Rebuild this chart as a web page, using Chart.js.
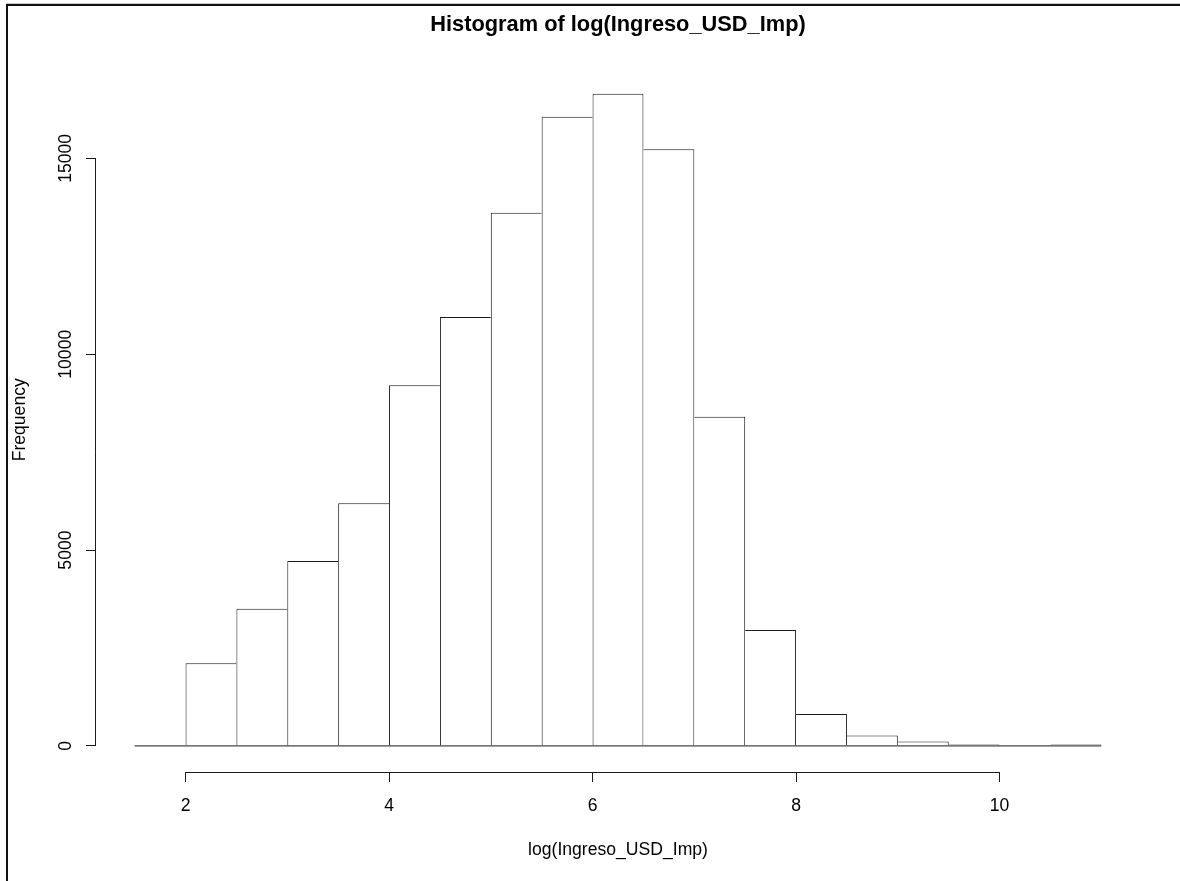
<!DOCTYPE html>
<html>
<head>
<meta charset="utf-8">
<title>Histogram of log(Ingreso_USD_Imp)</title>
<script src="https://cdn.jsdelivr.net/npm/chart.js@4.4.1/dist/chart.umd.min.js"></script>
<style>
  body { margin: 0; background: #fff; }
  #wrap { position: relative; width: 1180px; height: 881px; overflow: hidden; }
  #frame {
    position: absolute; left: 6px; top: 4px; right: 0; bottom: 0;
    border-top: 2px solid #111; border-left: 2px solid #111;
    box-shadow: 0 -1px 0 #c8c8c8;
    pointer-events: none;
  }
</style>
</head>
<body>
<div id="wrap">
  <canvas id="hist" width="1180" height="881"></canvas>
  <div id="frame"></div>
</div>
<script>
// histogram bins (R hist breaks) and counts
const breaks = [1.5, 2, 2.5, 3, 3.5, 4, 4.5, 5, 5.5, 6, 6.5, 7, 7.5, 8, 8.5, 9, 9.5, 10, 10.5, 11];
const counts = [3, 2111, 3505, 4723, 6196, 9209, 10952, 13615, 16066, 16653, 15234, 8407, 2961, 817, 263, 110, 33, 0, 33];
const xTicks = [2, 4, 6, 8, 10];
const yTicks = [0, 5000, 10000, 15000];

const FONT = "'Liberation Sans', Arial, sans-serif";
const LINE = '#1a1a1a';

// R pads the axis ranges by 4%
const xRange = breaks[breaks.length - 1] - breaks[0];
const yMax = Math.max(...counts);

const bars = counts.map((c, i) => ({ x: (breaks[i] + breaks[i + 1]) / 2, y: c }));

// shared edges only drawn once, by the taller bar
function edgeWidths(ctx) {
  const i = ctx.dataIndex;
  const c = counts[i];
  return {
    top: 1,
    bottom: 0,
    left: (i === 0 || counts[i - 1] < c) ? 1 : 0,
    right: (i === counts.length - 1 || counts[i + 1] <= c) ? 1 : 0
  };
}

// R style axes: line only spans first..last tick, y labels turned 90 degrees
const rAxes = {
  id: 'rAxes',
  afterDraw(chart) {
    const ctx = chart.ctx;
    const xs = chart.scales.x, ys = chart.scales.y;
    const area = chart.chartArea;
    ctx.save();
    ctx.strokeStyle = LINE;
    ctx.lineWidth = 1;
    ctx.beginPath();
    const yb = Math.round(area.bottom) + 0.5;
    ctx.moveTo(xs.getPixelForValue(xTicks[0]), yb);
    ctx.lineTo(xs.getPixelForValue(xTicks[xTicks.length - 1]), yb);
    const xl = Math.round(area.left) - 0.5;
    ctx.moveTo(xl, ys.getPixelForValue(yTicks[0]));
    ctx.lineTo(xl, ys.getPixelForValue(yTicks[yTicks.length - 1]));
    ctx.stroke();

    ctx.fillStyle = '#000';
    ctx.font = '17.6px ' + FONT;
    ctx.textAlign = 'center';
    ctx.textBaseline = 'alphabetic';
    yTicks.forEach(v => {
      ctx.save();
      ctx.translate(area.left - 25, ys.getPixelForValue(v));
      ctx.rotate(-Math.PI / 2);
      ctx.fillText(String(v), 0, 0);
      ctx.restore();
    });
    ctx.restore();
  }
};

new Chart(document.getElementById('hist'), {
  type: 'bar',
  data: {
    datasets: [
      {
        type: 'line',
        data: [{ x: breaks[0], y: 0 }, { x: breaks[breaks.length - 1], y: 0 }],
        borderColor: LINE,
        borderWidth: 1,
        pointRadius: 0,
        fill: false
      },
      {
        data: bars,
        backgroundColor: '#fff',
        borderColor: LINE,
        borderWidth: edgeWidths,
        borderSkipped: false,
        inflateAmount: 0,
        barPercentage: 1,
        categoryPercentage: 1
      }
    ]
  },
  options: {
    responsive: false,
    animation: false,
    layout: { padding: { top: 0, right: 40, bottom: 0, left: 0 } },
    plugins: {
      legend: { display: false },
      tooltip: { enabled: false },
      title: {
        display: true,
        fullSize: false,
        text: 'Histogram of log(Ingreso_USD_Imp)',
        color: '#000',
        font: { family: FONT, size: 21.8, weight: 'bold', lineHeight: 1.2 },
        padding: { top: 11.9, bottom: 29.5 }
      }
    },
    scales: {
      x: {
        type: 'linear',
        offset: false,
        min: breaks[0] - 0.04 * xRange,
        max: breaks[breaks.length - 1] + 0.04 * xRange,
        afterBuildTicks: s => { s.ticks = xTicks.map(v => ({ value: v })); },
        afterFit: s => { s.height = 109; },
        border: { display: false },
        grid: { offset: false, drawOnChartArea: false, drawTicks: true, tickLength: 10, color: LINE },
        ticks: {
          color: '#000',
          font: { family: FONT, size: 17.6 },
          padding: 13.3,
          maxRotation: 0,
          autoSkip: false,
          callback: v => String(v)
        },
        title: {
          display: true,
          text: 'log(Ingreso_USD_Imp)',
          color: '#000',
          font: { family: FONT, size: 17.6 },
          padding: { top: 0, bottom: 20.5 }
        }
      },
      y: {
        min: -0.04 * yMax,
        max: 1.04 * yMax,
        afterBuildTicks: s => { s.ticks = yTicks.map(v => ({ value: v })); },
        afterFit: s => { s.width = 96; },
        border: { display: false },
        grid: { drawOnChartArea: false, drawTicks: true, tickLength: 10, color: LINE },
        ticks: { display: false },
        title: {
          display: true,
          text: 'Frequency',
          color: '#000',
          font: { family: FONT, size: 17.6 },
          padding: { top: 9.2, bottom: 0 }
        }
      }
    }
  },
  plugins: [rAxes]
});
</script>
</body>
</html>
